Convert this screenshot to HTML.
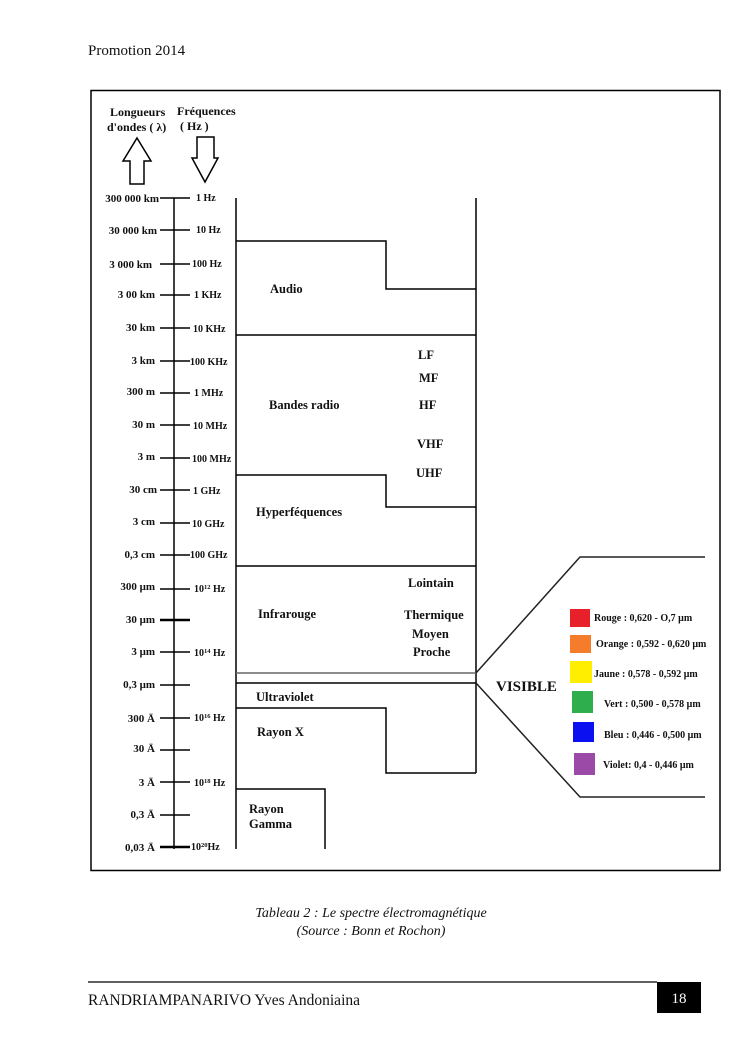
<!DOCTYPE html>
<html><head><meta charset="utf-8"><style>
html,body{margin:0;padding:0;background:#fff;}
svg{display:block;}
text{font-family:"Liberation Serif",serif;fill:#111;}
.b{font-weight:bold;font-size:12.5px;}
.s{font-weight:bold;font-size:11px;}
.c{font-weight:bold;font-size:10px;}
</style></head><body>
<svg width="745" height="1053" viewBox="0 0 745 1053" xmlns="http://www.w3.org/2000/svg">
<text x="88" y="55" font-size="15">Promotion 2014</text>
<rect x="91" y="90.5" width="629" height="780" fill="none" stroke="#000" stroke-width="1.5"/>

<text class="b" x="110" y="116" style="font-size:12px">Longueurs</text>
<text class="b" x="107" y="131" style="font-size:12px">d'ondes ( λ)</text>
<text class="b" x="177" y="115" style="font-size:12px">Fréquences</text>
<text class="b" x="180" y="130" style="font-size:12px">( Hz )</text>
<polygon points="137,138 151,161 144,161 144,184 130,184 130,161 123,161" fill="none" stroke="#000" stroke-width="1.5"/>
<polygon points="197,137 214,137 214,158 218,158 205,182 192,158 197,158" fill="none" stroke="#000" stroke-width="1.5"/>

<g stroke="#000" stroke-width="1.5" fill="none">
<line x1="174" y1="198" x2="174" y2="849"/>
<line x1="160" y1="198" x2="190" y2="198"/>
<line x1="160" y1="230" x2="190" y2="230"/>
<line x1="160" y1="264" x2="190" y2="264"/>
<line x1="160" y1="295" x2="190" y2="295"/>
<line x1="160" y1="328" x2="190" y2="328"/>
<line x1="160" y1="361" x2="190" y2="361"/>
<line x1="160" y1="393" x2="190" y2="393"/>
<line x1="160" y1="425" x2="190" y2="425"/>
<line x1="160" y1="458" x2="190" y2="458"/>
<line x1="160" y1="490" x2="190" y2="490"/>
<line x1="160" y1="523" x2="190" y2="523"/>
<line x1="160" y1="555" x2="190" y2="555"/>
<line x1="160" y1="589" x2="190" y2="589"/>
<line x1="160" y1="620" x2="190" y2="620" stroke-width="2.5"/>
<line x1="160" y1="652" x2="190" y2="652"/>
<line x1="160" y1="685" x2="190" y2="685"/>
<line x1="160" y1="718" x2="190" y2="718"/>
<line x1="160" y1="750" x2="190" y2="750"/>
<line x1="160" y1="782" x2="190" y2="782"/>
<line x1="160" y1="815" x2="190" y2="815"/>
<line x1="160" y1="847" x2="190" y2="847" stroke-width="2.5"/>

<line x1="236" y1="198" x2="236" y2="849"/>
<line x1="476" y1="198" x2="476" y2="773"/>
<polyline points="236,241 386,241 386,289 476,289"/>
<line x1="236" y1="335" x2="476" y2="335"/>
<polyline points="236,475 386,475 386,507 476,507"/>
<line x1="236" y1="566" x2="476" y2="566"/>
<line x1="236" y1="673" x2="476" y2="673" stroke="#666"/>
<line x1="236" y1="683" x2="476" y2="683"/>
<polyline points="236,708 386,708 386,773 476,773"/>
<polyline points="236,789 325,789 325,849"/>
<polyline points="476,673 580,557 705,557" stroke="#222"/>
<polyline points="476,683 580,797 705,797" stroke="#222"/>
</g>

<g text-anchor="end">
<text class="s" x="159" y="202">300 000 km</text>
<text class="s" x="157" y="234">30 000 km</text>
<text class="s" x="152" y="268">3 000 km</text>
<text class="s" x="155" y="298">3 00 km</text>
<text class="s" x="155" y="331">30 km</text>
<text class="s" x="155" y="364">3 km</text>
<text class="s" x="155" y="395">300 m</text>
<text class="s" x="155" y="428">30 m</text>
<text class="s" x="155" y="460">3 m</text>
<text class="s" x="157" y="493">30 cm</text>
<text class="s" x="155" y="525">3 cm</text>
<text class="s" x="155" y="558">0,3 cm</text>
<text class="s" x="155" y="590">300 μm</text>
<text class="s" x="155" y="623">30 μm</text>
<text class="s" x="155" y="655">3 μm</text>
<text class="s" x="155" y="688">0,3 μm</text>
<text class="s" x="155" y="722">300 Ā</text>
<text class="s" x="155" y="752">30 Ā</text>
<text class="s" x="155" y="786">3 Ā</text>
<text class="s" x="155" y="818">0,3 Ā</text>
<text class="s" x="155" y="851">0,03 Ā</text>
</g>
<g>
<text class="c" x="196" y="201">1 Hz</text>
<text class="c" x="196" y="233">10 Hz</text>
<text class="c" x="192" y="267">100 Hz</text>
<text class="c" x="194" y="298">1 KHz</text>
<text class="c" x="193" y="332">10 KHz</text>
<text class="c" x="190" y="365">100 KHz</text>
<text class="c" x="194" y="396">1 MHz</text>
<text class="c" x="193" y="429">10 MHz</text>
<text class="c" x="192" y="462">100 MHz</text>
<text class="c" x="193" y="494">1 GHz</text>
<text class="c" x="192" y="527">10 GHz</text>
<text class="c" x="190" y="558">100 GHz</text>
<text class="c" x="194" y="592">10<tspan font-size="6.5" dy="-3">12</tspan><tspan dy="3"> Hz</tspan></text>
<text class="c" x="194" y="656">10<tspan font-size="6.5" dy="-3">14</tspan><tspan dy="3"> Hz</tspan></text>
<text class="c" x="194" y="721">10<tspan font-size="6.5" dy="-3">16</tspan><tspan dy="3"> Hz</tspan></text>
<text class="c" x="194" y="786">10<tspan font-size="6.5" dy="-3">18</tspan><tspan dy="3"> Hz</tspan></text>
<text class="c" x="191" y="850">10<tspan font-size="6.5" dy="-3">20</tspan><tspan dy="3">Hz</tspan></text>
</g>

<text class="b" x="270" y="293">Audio</text>
<text class="b" x="269" y="409">Bandes radio</text>
<text class="b" x="418" y="359">LF</text>
<text class="b" x="419" y="382">MF</text>
<text class="b" x="419" y="409">HF</text>
<text class="b" x="417" y="448">VHF</text>
<text class="b" x="416" y="477">UHF</text>
<text class="b" x="256" y="516">Hyperféquences</text>
<text class="b" x="258" y="618">Infrarouge</text>
<text class="b" x="408" y="587">Lointain</text>
<text class="b" x="404" y="619">Thermique</text>
<text class="b" x="412" y="638">Moyen</text>
<text class="b" x="413" y="656">Proche</text>
<text class="b" x="256" y="701">Ultraviolet</text>
<text class="b" x="257" y="736">Rayon X</text>
<text class="b" x="249" y="813">Rayon</text>
<text class="b" x="249" y="828">Gamma</text>
<text x="496" y="691" font-size="15" font-weight="bold">VISIBLE</text>

<rect x="570" y="609" width="20" height="18" fill="#e8202a"/>
<rect x="570" y="635" width="21" height="18" fill="#f57c2b"/>
<rect x="570" y="661" width="22" height="22" fill="#ffee00"/>
<rect x="572" y="691" width="21" height="22" fill="#2fae4e"/>
<rect x="573" y="722" width="21" height="20" fill="#0a10f0"/>
<rect x="574" y="753" width="21" height="22" fill="#9b4aa8"/>
<text class="c" x="594" y="621">Rouge : 0,620 - O,7 μm</text>
<text class="c" x="596" y="647">Orange : 0,592 - 0,620 μm</text>
<text class="c" x="594" y="677">Jaune : 0,578 - 0,592 μm</text>
<text class="c" x="604" y="707">Vert : 0,500 - 0,578 μm</text>
<text class="c" x="604" y="738">Bleu : 0,446 - 0,500 μm</text>
<text class="c" x="603" y="768">Violet: 0,4 - 0,446 μm</text>

<text x="371" y="917" font-size="14" font-style="italic" text-anchor="middle">Tableau 2 : Le spectre électromagnétique</text>
<text x="371" y="935" font-size="14" font-style="italic" text-anchor="middle">(Source : Bonn et  Rochon)</text>

<line x1="88" y1="982" x2="657" y2="982" stroke="#000" stroke-width="1.2"/>
<text x="88" y="1005" font-size="15.5">RANDRIAMPANARIVO Yves Andoniaina</text>
<rect x="657" y="982" width="44" height="31" fill="#000"/>
<text x="679" y="1003" font-size="15" text-anchor="middle" style="fill:#fff">18</text>
</svg>
</body></html>
